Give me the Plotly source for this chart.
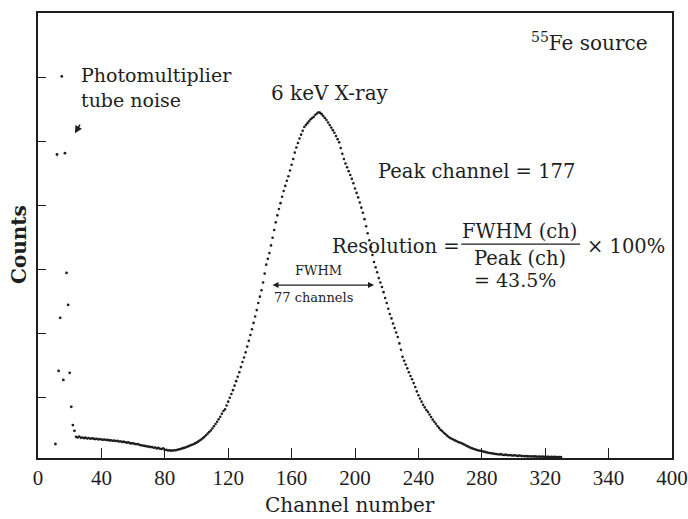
import plotly.graph_objects as go

# ---- data ----
noise_channels = [11, 12, 13, 14, 15, 16, 17, 18, 19, 20, 21, 22, 23]
noise_counts = [219, 4740, 1360, 2190, 5960, 1220, 4760, 2890, 2390, 1330, 800, 515, 425]

spectrum_counts = [
    330, 320, 335, 315, 320, 310, 318, 305, 312, 300,
    308, 302, 295, 300, 290, 296, 288, 285, 290, 280,
    283, 275, 278, 270, 272, 265, 268, 258, 262, 250,
    255, 245, 240, 246, 232, 228, 230, 220, 215, 218,
    205, 200, 196, 190, 186, 180, 178, 170, 172, 160,
    165, 150, 158, 145, 140, 150, 125, 130, 118, 120,
    115, 118, 120, 122, 128, 135, 140, 150, 158, 165,
    175, 185,
    195, 205, 215, 228, 240, 255, 272, 290, 310, 330,
    355, 380, 405, 430, 460, 495, 530, 565, 605, 645,
    690, 735, 760, 820, 880, 940, 1000, 1060, 1130, 1200,
    1270, 1340, 1420, 1500, 1570, 1650, 1740, 1830, 1920, 2010,
    2110, 2210, 2310, 2420, 2520, 2620, 2740, 2880, 3020, 3110,
    3200, 3320, 3440, 3560, 3680, 3790, 3890, 3980, 4080, 4170,
    4250, 4330, 4400, 4490, 4580, 4670, 4770, 4850, 4920, 4990,
    5050, 5110, 5170, 5200, 5230, 5260, 5290, 5310, 5330, 5360,
    5380, 5400, 5390, 5370, 5340, 5310, 5280, 5240, 5200, 5160,
    5120, 5080, 5030, 4980, 4930, 4840, 4750, 4670, 4600, 4540,
    4480, 4420, 4360, 4290, 4210, 4140, 4070, 3990, 3910, 3830,
    3730, 3620, 3510, 3400, 3290, 3170, 3060, 2980, 2900, 2810,
    2740, 2670, 2590, 2500, 2420, 2330, 2250, 2180, 2100, 2030,
    1960, 1890, 1790, 1690, 1580, 1520, 1460, 1400, 1340, 1280,
    1230, 1170, 1110, 1040, 980, 930, 880, 830, 790, 750,
    720, 680, 640, 600, 565, 535, 500, 470, 440, 420,
    395, 375, 350, 330, 312, 300, 290, 275, 265, 250,
    242, 234, 220, 210, 195, 185, 170, 160, 150, 140,
    132, 125, 118, 114, 108, 100, 95, 88, 83, 78,
    75, 70, 65, 62,
    58, 55, 60, 50, 48, 52, 45, 42, 47, 40,
    38, 42, 35, 33, 38, 30, 32, 28, 30, 25,
    28, 24, 26, 22, 25, 20, 23, 19, 22, 18,
    20, 17, 19, 16, 18, 15, 17, 14, 16, 13,
    15,
]
first_channel = 24
spectrum_channels = list(range(first_channel, first_channel + len(spectrum_counts)))

x_tick_vals = [0, 40, 80, 120, 160, 200, 240, 280, 320, 360, 400]
x_tick_text = ["0", "40", "80", "120", "160", "200", "240", "280", "320", "340", "400"]
y_tick_vals = [950, 1950, 2950, 3950, 4950, 5950]

INK = "#1e1e1e"
SERIF = "DejaVu Serif"

fig = go.Figure()
fig.add_trace(go.Scatter(x=noise_channels, y=noise_counts, mode="markers",
                         marker=dict(size=2.8, color=INK), showlegend=False,
                         hoverinfo="x+y"))
fig.add_trace(go.Scatter(x=spectrum_channels, y=spectrum_counts, mode="markers",
                         marker=dict(size=2.6, color=INK), showlegend=False,
                         hoverinfo="x+y"))

ann = []
def txt(x, y, s, size=20, xanchor="left", **kw):
    ann.append(dict(x=x, y=y, xref="x", yref="y", text=s, showarrow=False,
                    xanchor=xanchor, yanchor="middle",
                    font=dict(family=SERIF, size=size, color=INK), **kw))

txt(25.8, 5982, "Photomultiplier", 19)
txt(25.8, 5592, "tube noise", 19)
txt(184, 5701, "6 keV X-ray", 20, xanchor="center")
txt(386.3, 6498, "<sup>55</sup>Fe source", 20, xanchor="right")
txt(213, 4467, "Peak channel = 177", 19.5)
txt(184, 3311, "Resolution =", 19.5)
txt(304, 3545, "FWHM (ch)", 19.5, xanchor="center")
txt(304, 3110, "Peak (ch)", 19.5, xanchor="center")
txt(345, 3311, "× 100%", 19.5)
txt(274, 2780, "= 43.5%", 19)
txt(177, 2935, "FWHM", 13, xanchor="center")
txt(174, 2505, "77 channels", 13, xanchor="center")

# arrows
ann.append(dict(x=23.3, y=5070, ax=27, ay=5230, xref="x", yref="y", axref="x", ayref="y",
                text="", showarrow=True, arrowhead=2, arrowsize=1, arrowwidth=1.5,
                arrowcolor=INK))
ann.append(dict(x=212, y=2700, ax=147, ay=2700, xref="x", yref="y", axref="x", ayref="y",
                text="", showarrow=True, arrowhead=2, arrowside="end+start",
                arrowsize=1, arrowwidth=1.2, arrowcolor=INK))

# axis titles as annotations
ann.append(dict(x=-0.029, y=0.48, xref="paper", yref="paper", text="<b>Counts</b>",
                textangle=-90, showarrow=False, xanchor="center", yanchor="middle",
                font=dict(family=SERIF, size=20, color=INK)))
ann.append(dict(x=0.492, y=-0.106, xref="paper", yref="paper", text="Channel number",
                showarrow=False, xanchor="center", yanchor="middle",
                font=dict(family=SERIF, size=20, color=INK)))

fig.update_layout(
    width=688, height=519,
    margin=dict(l=38, r=16, t=13, b=61, autoexpand=False),
    paper_bgcolor="white", plot_bgcolor="white",
    annotations=ann,
    shapes=[dict(type="line", xref="x", yref="y", x0=267, x1=342, y0=3340, y1=3340,
                 line=dict(color=INK, width=1.3))],
    xaxis=dict(range=[0, 400], tickvals=x_tick_vals, ticktext=x_tick_text,
               ticks="inside", ticklen=10, tickwidth=1.2, tickcolor=INK,
               showline=True, linecolor=INK, linewidth=1.6, mirror=True,
               showgrid=False, zeroline=False, automargin=False,
               tickfont=dict(family="Liberation Serif", size=21, color=INK)),
    yaxis=dict(range=[0, 6950], tickvals=y_tick_vals, showticklabels=False,
               ticks="inside", ticklen=8, tickwidth=1.2, tickcolor=INK,
               showline=True, linecolor=INK, linewidth=1.6, mirror=True,
               showgrid=False, zeroline=False, automargin=False),
)

fig.write_html("out.html")
